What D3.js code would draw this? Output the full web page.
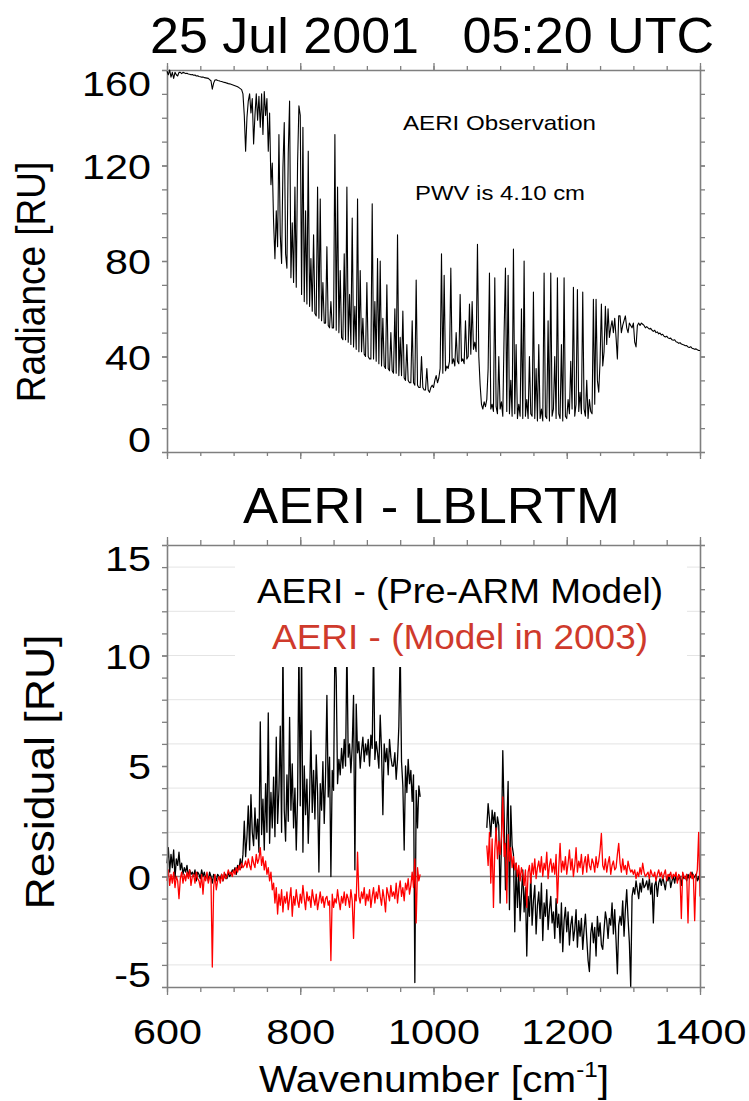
<!DOCTYPE html>
<html>
<head>
<meta charset="utf-8">
<script src="https://cdn.jsdelivr.net/npm/d3@7"></script>
<style>
  body { margin: 0; background: #fff; }
  svg { display: block; }
  text { font-family: "Liberation Sans", Arial, Helvetica, sans-serif; fill: #000; }
</style>
</head>
<body>
<svg id="chart" width="749" height="1101"></svg>
<script>
// Spectra are sampled every 2 cm^-1.
const sampleStep = 2;

// AERI observed downwelling radiance [RU], 600-1400 cm^-1
const observationStart = 600;
const aeriRadiance = [
  159.5,158,160,157,159,156.5,159,158,157.5,159,
  159,158.5,159,158.8,158.5,158.6,158.3,158.2,158,158.1,
  157.8,157.9,157.5,157.6,157.3,157.2,157,157.1,156.8,156.7,
  156.6,156.5,156,155.5,152,154.5,155.8,155.9,155.6,155.5,
  155.3,155.2,155,154.8,154.7,154.5,154.3,154.2,154,153.8,
  153.6,153.4,153.2,153,152.6,152.2,151.8,150,141,126,
  140,147,150,142,148,129,141,150,139,149,
  136,150,133,151,141,148,126,142,112,121,
  96,81,101,86,133,91,79,119,138,83,
  77,125,147,73,96,71,111,69,121,145,
  141,66,136,63,101,62,126,61,81,59,
  91,58,57,111,56,106,55,71,54,54,
  86,53,52,63,52,52,133,51,111,50,
  76,48,47,83,47,111,46,66,45,98,
  44,61,43,106,42,76,42,56,41,40,
  71,40,39,39,104,39,63,38,81,37,
  80,36,56,36,35,70,35,34,50,34,
  33,60,33,91,32,48,32,59,31,30,
  45,30,29,29,55,29,28,72,28,27,
  27,40,27,26,26,35,26,25,27,28,
  27,30,32,29,31,35,83,33,74,34,
  36,35,38,77,37,39,36,50,38,37,
  66,38,39,37,55,39,40,62,41,63,
  43,46,42,87,40,28,20,18,21,19,
  22,35,75,18,20,17,73,19,16,40,
  18,21,15,50,77,17,74,16,30,15,
  85,16,45,14,20,15,60,14,80,15,
  22,14,40,16,15,67,14,35,13,45,
  14,18,13,75,15,14,55,13,75,15,
  18,40,14,73,16,14,45,13,73,15,
  14,22,16,38,18,69,15,20,68,17,
  25,16,67,18,15,30,14,22,17,16,
  64,20,64,30,25,38,62,36,42,61,
  45,60,48,52,55,50,56,48,39,57,
  57,50,53,55,57,52,50,54,53,52,
  54,46,44,53,54,53,54,53.5,53,52,
  52.5,52,51.5,51.8,51,50.5,51,50,50.3,49.5,
  49.8,49,49.3,48.5,48.2,48.5,47.8,47.5,47.7,47,
  46.8,47,46.2,46,45.5,45.8,45.2,45,44.8,44.5,
  44.6,44,43.8,44.1,43.5,43.3,43,43.2,42.8,42.5,
  42.5
];

// Residuals [RU]: first window 600-980 cm^-1, second 1080-1400 cm^-1
const windowStart = 600;
const bandStart = 1080;

const preArmWindow = [
  0.6,1.3,0.2,1.0,0.4,1.2,-0.1,0.8,0.5,1.1,
  0.3,0.6,0.1,0.4,0.2,0.5,0.0,0.3,0.1,0.2,
  0.0,0.3,-0.2,0.2,0.1,-0.1,0.3,0.0,0.2,-0.1,
  0.1,-0.2,0.2,0.0,-0.3,0.1,0.0,-0.2,0.1,0.0,
  -0.1,0.1,-0.2,0.0,0.1,-0.1,0.2,0.0,0.1,0.3,
  0.2,0.4,0.1,0.5,0.3,0.8,0.4,1.0,2.5,0.9,
  1.8,3.2,1.2,3.7,2.0,1.4,3.1,1.7,2.6,1.1,
  7.0,1.9,3.5,1.2,4.2,2.0,7.4,1.5,3.8,2.2,
  4.5,1.8,6.3,2.4,3.9,6.8,2.0,10.5,3.0,1.6,
  4.6,2.5,7.2,3.0,5.1,2.2,4.0,1.2,3.6,10.5,
  3.2,10.5,1.1,5.0,2.8,4.4,1.5,3.6,6.6,2.9,
  4.8,2.6,5.5,3.8,0.2,4.2,3.0,5.2,2.4,4.6,
  8.2,3.6,5.4,0.0,4.8,3.9,10.5,9.0,4.2,5.3,
  4.6,5.8,4.9,6.2,5.0,10.5,5.4,6.0,4.7,5.9,
  8.2,0.3,7.8,5.6,6.1,4.9,5.7,6.3,5.2,6.0,
  5.5,6.2,5.0,6.4,5.8,10.5,5.3,6.1,5.6,4.9,
  7.3,5.7,2.8,6.0,5.2,5.8,4.6,6.2,5.4,5.0,
  5.0,5.6,4.4,5.3,6.8,10.5,5.2,4.1,1.2,5.0,
  3.8,5.3,4.2,4.8,3.4,4.6,-4.8,3.9,2.2,4.1,
  3.6
];

const preArmBand = [
  2.2,3.3,2.6,1.8,3.0,2.4,2.9,1.9,2.7,2.3,
  -1.2,1.6,5.7,2.8,-0.6,2.2,4.3,-1.5,3.2,1.4,
  1.0,-2.5,0.6,-1.4,0.2,-2.0,-0.8,0.3,-1.6,-0.5,
  -3.6,-0.9,-1.8,0.1,-2.2,-1.1,-0.4,-2.6,-1.3,-0.7,
  -1.9,-0.3,-2.9,-1.2,-1.8,-0.6,-2.4,-1.5,-0.9,-2.1,
  -1.6,-2.8,-1.0,-2.3,-1.7,-3.0,-1.2,-3.4,-2.0,-1.4,
  -2.5,-1.6,-3.1,-2.2,-1.8,-2.9,-2.4,-1.5,-3.2,-2.0,
  -2.7,-1.9,-3.3,-2.4,-1.7,-2.8,-3.8,-4.3,-2.6,-2.1,
  -3.0,-2.3,-3.6,-1.8,-2.7,-2.1,-3.1,-3.3,-2.4,-1.6,
  -2.0,-2.8,-1.9,-2.2,-1.2,-2.6,-1.5,-2.9,-4.4,-2.2,
  -1.8,-2.2,-1.1,-2.7,-1.5,-0.6,-1.9,-3.0,-5.0,-0.9,
  -0.5,-0.8,-0.2,-0.6,-1.0,-0.3,-0.7,-0.1,-0.5,-0.4,
  -0.2,-0.6,-0.1,-0.8,-0.3,-2.1,-0.4,-0.2,-0.9,-0.3,
  -0.1,-0.4,0.0,-0.3,-0.6,-0.1,-0.2,0.1,-0.5,-0.2,
  0.0,-0.3,0.1,-0.2,-0.1,0.0,-0.4,0.1,-0.1,0.0,
  -0.2,0.1,-0.1,0.0,0.2,-0.1,0.0,0.1,-0.2,0.0,
  -0.3
];

const model2003Window = [
  -0.2,0.3,-0.4,0.1,-0.3,0.2,-0.5,0.0,-0.2,-1.0,
  -0.1,0.2,-0.3,0.1,-0.2,0.2,-0.1,0.3,-0.4,0.0,
  0.1,-0.3,0.2,-0.1,-0.2,-0.5,0.1,-0.8,0.0,-0.2,
  0.2,-0.3,0.0,-0.1,-4.1,-0.5,0.1,-0.6,-0.2,0.0,
  -0.3,0.1,-0.2,0.2,-0.1,0.0,0.3,0.1,0.2,0.0,
  0.3,0.1,0.4,0.2,0.5,0.3,0.6,0.4,0.5,0.7,
  0.4,0.8,0.5,0.3,0.9,0.6,0.4,1.0,0.6,0.8,
  1.3,0.5,0.9,0.3,0.7,0.1,0.4,-0.2,0.2,-0.6,
  -0.3,-1.2,-0.5,-1.7,-0.8,-1.3,-0.6,-1.6,-0.9,-1.2,
  -0.7,-1.5,-1.0,-0.5,-1.8,-0.9,-1.3,-0.6,-1.1,-1.4,
  -0.8,-1.2,-0.4,-1.0,-1.5,-0.7,-1.1,-0.9,-1.4,-0.6,
  -1.0,-1.3,-0.8,-1.5,-1.1,-0.7,-1.2,-0.9,-1.4,-1.0,
  -0.9,-1.3,-1.1,-3.8,-0.8,-1.4,-1.0,-1.2,-0.6,-1.1,
  -1.5,-0.9,-1.2,-0.7,-1.3,-0.8,-1.0,-1.4,-0.6,-1.1,
  -2.8,-0.8,-1.1,1.1,-0.9,-1.2,-0.7,-1.0,-0.5,-1.3,
  -0.8,-1.1,-0.6,-1.4,-0.9,-0.5,-1.2,-0.7,-1.0,-0.4,
  -0.9,-1.3,-0.6,-1.0,-1.6,-0.5,-0.8,-1.1,-0.4,-0.9,
  -0.7,-1.0,-0.3,-1.2,-0.6,-0.2,-0.9,-0.5,-1.1,-0.3,
  -0.6,-0.1,-0.8,-0.4,0.2,-0.5,0.8,-2.1,0.4,-0.2,
  0.1
];

const model2003Band = [
  1.4,0.5,2.0,-0.3,1.7,-1.4,1.2,2.2,0.8,1.6,
  1.0,1.8,3.6,0.9,1.5,-1.2,1.9,0.7,1.3,0.4,
  0.9,0.3,0.6,0.0,0.5,-0.2,0.4,0.1,-0.4,0.3,
  -1.4,0.2,0.5,-0.3,0.6,0.1,0.8,-0.1,0.4,0.7,
  0.2,0.9,0.0,0.6,0.3,1.1,-0.1,0.5,0.8,0.2,
  0.6,0.1,1.0,-1.2,0.4,1.5,0.2,0.7,0.3,0.9,
  0.1,0.6,1.2,0.3,0.8,0.0,0.5,1.3,0.2,0.7,
  0.4,1.0,0.1,0.6,0.9,0.2,1.0,0.5,0.3,0.8,
  0.6,0.2,0.9,0.4,0.7,1.2,1.95,0.5,0.3,0.8,
  0.2,0.6,0.9,0.1,0.5,0.7,0.3,0.4,1.0,1.5,
  0.6,0.2,0.8,0.3,0.5,0.1,0.7,0.4,0.2,0.3,
  0.1,0.3,-0.1,0.2,0.0,0.4,0.1,0.6,0.2,0.0,
  0.1,0.2,-0.1,0.3,0.1,0.0,0.2,-0.2,0.1,0.3,
  0.0,0.2,-0.1,0.1,0.3,-0.2,0.1,0.0,0.2,-0.1,
  0.1,0.0,0.2,-0.3,0.1,0.0,-1.9,0.2,0.0,-0.1,
  0.1,-2.1,0.0,0.2,-0.1,0.1,-2.0,0.0,0.3,2.0,
  -0.9
];

// Axis ticks and labels
const wavenumberDomain = [600, 1400];
const wavenumberTicks = [600, 800, 1000, 1200, 1400];
const wavenumberMinor = d3.range(600, 1401, 50);
const radianceDomain = [0, 160];
const radianceTicks = [0, 40, 80, 120, 160];
const radianceMinor = d3.range(0, 161, 10);
const residualDomain = [-5, 15];
const residualTicks = [-5, 0, 5, 10, 15];
const residualMinor = d3.range(-5, 16, 1);
const residualGrid = [-4, -2, 2, 4, 6, 8, 10, 12, 14];

const chartTitle = "25 Jul 2001   05:20 UTC";
const residualTitle = "AERI - LBLRTM";
const legendEntries = ["AERI - (Pre-ARM Model)", "AERI - (Model in 2003)"];
const legendColors = ["#000000", "#cf3a2c"];

const svg = d3.select("#chart");
const axisColor = "#7f7f7f";
const frame = { left: 167, right: 700 };
const topPanel = { top: 70, bottom: 452 };
const botPanel = { top: 545, bottom: 987 };
const labelSize = 35;
const labelStretch = 1.18;
const plainNumber = (d) => String(d);

const toSeries = (start, values) => values.map((v, i) => [start + i * sampleStep, v]);

const x = d3.scaleLinear().domain(wavenumberDomain).range([frame.left, frame.right]);
const yTop = d3.scaleLinear().domain(radianceDomain).range([topPanel.bottom, topPanel.top]);
const yBot = d3.scaleLinear().domain(residualDomain).range([botPanel.bottom, botPanel.top]);

// ---------- axes helpers ----------
function styleAxis(g) {
  g.selectAll("path.domain").attr("stroke", axisColor).attr("stroke-width", 1.6);
  g.selectAll(".tick line").attr("stroke", axisColor).attr("stroke-width", 1.3);
}
function drawAxis(axisFn, scale, major, minor, transform, majorLen, minorLen, withLabels) {
  const gMinor = svg.append("g").attr("transform", transform)
    .call(axisFn(scale).tickValues(minor).tickSize(minorLen).tickSizeOuter(0).tickFormat(""));
  styleAxis(gMinor);
  const gMajor = svg.append("g").attr("transform", transform)
    .call(axisFn(scale).tickValues(major).tickSize(majorLen).tickSizeOuter(0)
      .tickFormat(withLabels ? plainNumber : ""));
  styleAxis(gMajor);
  gMajor.selectAll("path.domain").remove();
  return gMajor;
}
function styleLeftLabels(g, ticks) {
  g.selectAll(".tick text")
    .attr("font-size", labelSize)
    .attr("x", -16 / labelStretch)
    .attr("dy", (d) => d === ticks[ticks.length - 1] ? "0.72em" : d === ticks[0] ? "-0.02em" : "0.36em")
    .attr("transform", `scale(${labelStretch},1)`)
    .attr("fill", "#000");
}

// ---------- top panel: observed radiance ----------
drawAxis(d3.axisTop, x, wavenumberTicks, wavenumberMinor, `translate(0,${topPanel.top})`, 7, 4, false);
drawAxis(d3.axisBottom, x, wavenumberTicks, wavenumberMinor, `translate(0,${topPanel.bottom})`, 7, 4, false);
const topLeft = drawAxis(d3.axisLeft, yTop, radianceTicks, radianceMinor, `translate(${frame.left},0)`, 5, 5, true);
styleLeftLabels(topLeft, radianceTicks);
drawAxis(d3.axisRight, yTop, radianceTicks, radianceMinor, `translate(${frame.right},0)`, 5, 5, false);

const line = d3.line().x((d) => x(d[0])).y((d) => yTop(d[1]));
svg.append("path")
  .datum(toSeries(observationStart, aeriRadiance))
  .attr("d", line)
  .attr("fill", "none")
  .attr("stroke", "#000")
  .attr("stroke-width", 1.1)
  .attr("stroke-linejoin", "round");

svg.append("text").attr("x", 403).attr("y", 130).attr("font-size", 21)
  .attr("textLength", 193).attr("lengthAdjust", "spacingAndGlyphs").text("AERI Observation");
svg.append("text").attr("x", 415).attr("y", 200).attr("font-size", 21)
  .attr("textLength", 170).attr("lengthAdjust", "spacingAndGlyphs").text("PWV is 4.10 cm");

svg.append("text")
  .attr("transform", "translate(45,282) rotate(-90) scale(1,1.1)")
  .attr("text-anchor", "middle").attr("font-size", 37).text("Radiance [RU]");

svg.append("text")
  .attr("x", 432).attr("y", 53).attr("text-anchor", "middle").attr("font-size", 50)
  .style("white-space", "pre")
  .attr("textLength", 564).attr("lengthAdjust", "spacingAndGlyphs").text(chartTitle);

// ---------- bottom panel: residuals ----------
svg.append("g").selectAll("line").data(residualGrid).join("line")
  .attr("x1", frame.left).attr("x2", frame.right)
  .attr("y1", (d) => yBot(d)).attr("y2", (d) => yBot(d))
  .attr("stroke", "#e4e4e4").attr("stroke-width", 1);
svg.append("line")
  .attr("x1", frame.left).attr("x2", frame.right)
  .attr("y1", yBot(0)).attr("y2", yBot(0))
  .attr("stroke", "#858585").attr("stroke-width", 1.3);

const resLine = d3.line().x((d) => x(d[0])).y((d) => yBot(d[1]));
const residualSeries = [
  { values: toSeries(windowStart, preArmWindow), color: "#000" },
  { values: toSeries(bandStart, preArmBand), color: "#000" },
  { values: toSeries(windowStart, model2003Window), color: "#ff0000" },
  { values: toSeries(bandStart, model2003Band), color: "#ff0000" }
];
svg.append("g").selectAll("path").data(residualSeries).join("path")
  .attr("d", (d) => resLine(d.values))
  .attr("fill", "none")
  .attr("stroke", (d) => d.color)
  .attr("stroke-width", 1.3)
  .attr("stroke-linejoin", "round");

// legend box sits over the data
svg.append("rect").attr("x", 235).attr("y", 556).attr("width", 452).attr("height", 111).attr("fill", "#fff");
const legendLayout = [{ x: 257, y: 603, w: 406 }, { x: 272, y: 649, w: 376 }];
legendEntries.forEach((label, i) => {
  svg.append("text")
    .attr("x", legendLayout[i].x).attr("y", legendLayout[i].y)
    .attr("font-size", 35).style("fill", legendColors[i])
    .attr("textLength", legendLayout[i].w).attr("lengthAdjust", "spacingAndGlyphs")
    .text(label);
});

drawAxis(d3.axisTop, x, wavenumberTicks, wavenumberMinor, `translate(0,${botPanel.top})`, 8, 5, false);
const botAxis = drawAxis(d3.axisBottom, x, wavenumberTicks, wavenumberMinor, `translate(0,${botPanel.bottom})`, 8, 5, true);
botAxis.selectAll(".tick text")
  .attr("font-size", labelSize).attr("y", 57).attr("dy", 0)
  .attr("transform", `scale(${labelStretch},1)`).attr("fill", "#000");
const botLeft = drawAxis(d3.axisLeft, yBot, residualTicks, residualMinor, `translate(${frame.left},0)`, 5, 5, true);
styleLeftLabels(botLeft, residualTicks);
drawAxis(d3.axisRight, yBot, residualTicks, residualMinor, `translate(${frame.right},0)`, 5, 5, false);

svg.append("text")
  .attr("x", 431.5).attr("y", 523).attr("text-anchor", "middle").attr("font-size", 50)
  .attr("textLength", 377).attr("lengthAdjust", "spacingAndGlyphs").text(residualTitle);

svg.append("text")
  .attr("transform", "translate(54,772) rotate(-90)")
  .attr("text-anchor", "middle").attr("font-size", 40)
  .attr("textLength", 275).attr("lengthAdjust", "spacingAndGlyphs").text("Residual [RU]");

const xTitle = svg.append("text")
  .attr("transform", "translate(434,1092) scale(1.1,1)")
  .attr("text-anchor", "middle").attr("font-size", 37);
xTitle.append("tspan").text("Wavenumber [cm");
xTitle.append("tspan").attr("font-size", 22).attr("dy", -15).text("-1");
xTitle.append("tspan").attr("dy", 15).text("]");
</script>
</body>
</html>
